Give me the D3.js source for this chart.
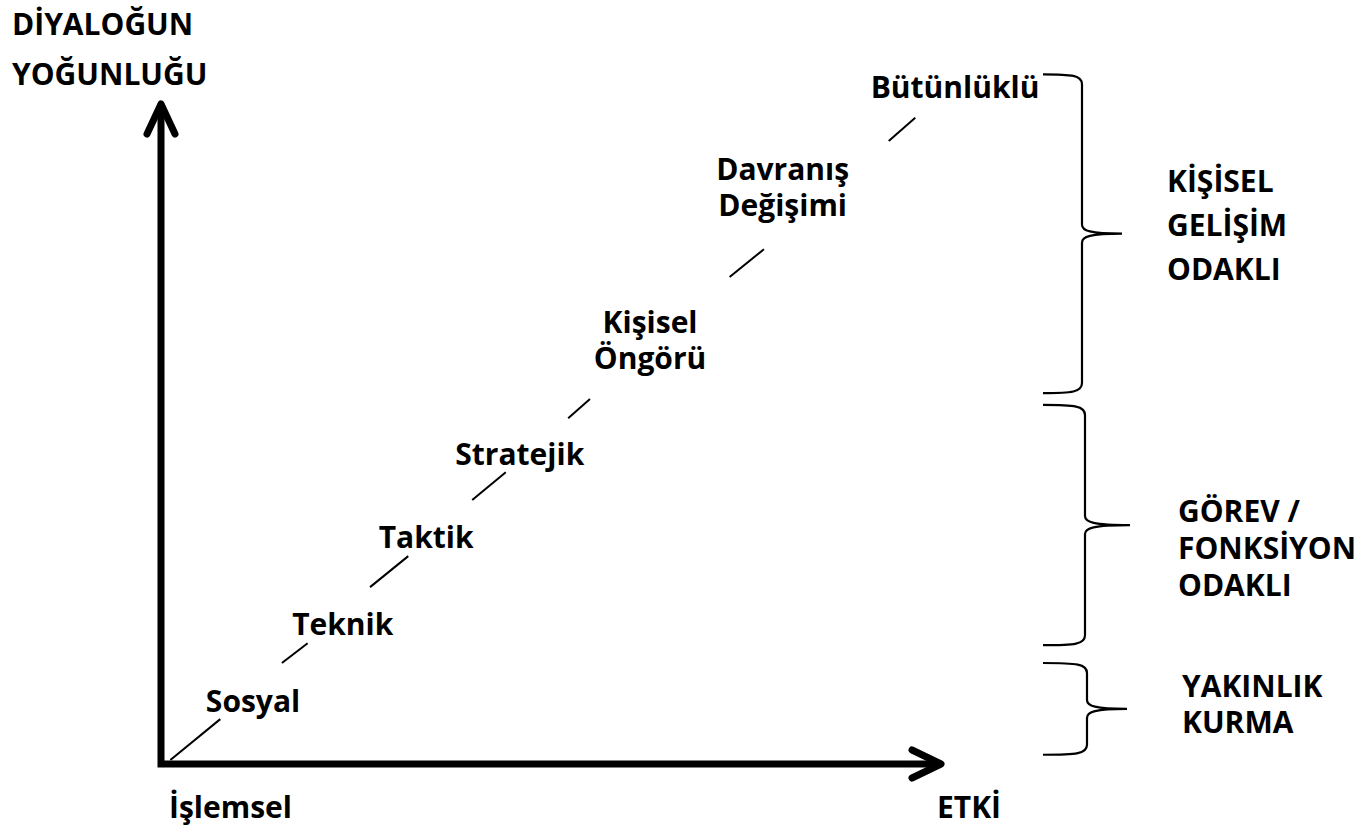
<!DOCTYPE html>
<html>
<head>
<meta charset="utf-8">
<script src="https://cdn.jsdelivr.net/npm/d3@7"></script>
<style>
  html, body { margin: 0; padding: 0; background: #fff; }
  svg { display: block; }
  text { font-family: "Open Sans", "Noto Sans", sans-serif; font-weight: 700; fill: #000; }
</style>
</head>
<body>
<svg id="chart" width="1367" height="830"></svg>
<script>
// ---------- data (diagram units: 0..100 on each axis) ----------
const stageNames   = [["Sosyal"], ["Teknik"], ["Taktik"], ["Stratejik"], ["Kişisel", "Öngörü"], ["Davranış", "Değişimi"], ["Bütünlüklü"]];
const stageX       = [11.8, 23.3, 34.0, 46.0, 62.7, 79.7, 101.8];   // label centre along ETKİ
const stageY       = [7.9, 19.5, 32.7, 45.3, 65.3, 88.5, 100.9];     // first baseline along DİYALOĞUN YOĞUNLUĞU

// diagonal path pieces visible between the stage labels [x1, y1, x2, y2]
const segX1 = [1.2, 15.5, 26.8, 39.9, 52.2, 72.9, 93.3];
const segY1 = [0.6, 15.3, 26.8, 40.0, 52.4, 73.8, 94.4];
const segX2 = [7.6, 18.8, 31.7, 44.2, 55.0, 77.3, 96.7];
const segY2 = [6.8, 18.3, 31.5, 44.2, 55.3, 78.0, 97.9];

// groups shown with braces on the right
const groupNames = [["KİŞİSEL", "GELİŞİM", "ODAKLI"], ["GÖREV /", "FONKSİYON", "ODAKLI"], ["YAKINLIK", "KURMA"]];
const groupTop   = [104.5, 54.4, 15.3];
const groupBot   = [56.2, 18.0, 1.4];
const groupTextY = [86.7, 36.7, 10.2];

const yAxisTitle = ["DİYALOĞUN", "YOĞUNLUĞU"];
const xAxisStart = "İşlemsel";
const xAxisEnd   = "ETKİ";

// ---------- layout ----------
const svg = d3.select("#chart");
const x = d3.scaleLinear().domain([0, 100]).range([161, 941]);
const y = d3.scaleLinear().domain([0, 100]).range([764, 104]);
const FS = 30;

// axes
svg.append("path")
  .attr("d", `M${x(0)},${y(100) + 6} L${x(0)},${y(0)} L${x(100) - 6},${y(0)}`)
  .attr("fill", "none").attr("stroke", "#000").attr("stroke-width", 7)
  .attr("stroke-linejoin", "miter");
// arrowheads
svg.append("path")
  .attr("d", `M${x(0) - 14},${y(100) + 30} L${x(0)},${y(100)} L${x(0) + 14},${y(100) + 30}`)
  .attr("fill", "none").attr("stroke", "#000").attr("stroke-width", 7)
  .attr("stroke-linecap", "round").attr("stroke-linejoin", "round");
svg.append("path")
  .attr("d", `M${x(100) - 29},${y(0) - 14} L${x(100)},${y(0)} L${x(100) - 29},${y(0) + 14}`)
  .attr("fill", "none").attr("stroke", "#000").attr("stroke-width", 7)
  .attr("stroke-linecap", "round").attr("stroke-linejoin", "round");

// diagonal pieces
svg.append("g").selectAll("line").data(segX1).join("line")
  .attr("x1", (d, i) => x(segX1[i])).attr("y1", (d, i) => y(segY1[i]))
  .attr("x2", (d, i) => x(segX2[i])).attr("y2", (d, i) => y(segY2[i]))
  .attr("stroke", "#000").attr("stroke-width", 2);

// stage labels
const stageG = svg.append("g").selectAll("text").data(stageNames).join("text")
  .attr("text-anchor", "middle")
  .attr("font-size", FS)
  .attr("x", (d, i) => x(stageX[i]))
  .attr("y", (d, i) => y(stageY[i]));
stageG.selectAll("tspan").data(d => d).join("tspan")
  .attr("x", function () { return this.parentNode.getAttribute("x"); })
  .attr("dy", (d, j) => j === 0 ? 0 : 36)
  .text(d => d);

// axis titles
const yt = svg.append("text").attr("font-size", FS).attr("x", 12).attr("y", 35);
yt.selectAll("tspan").data(yAxisTitle).join("tspan")
  .attr("x", 12).attr("dy", (d, j) => j === 0 ? 0 : 50).text(d => d);
svg.append("text").attr("font-size", FS).attr("x", 169).attr("y", 818).text(xAxisStart);
svg.append("text").attr("font-size", FS).attr("x", 937).attr("y", 818).text(xAxisEnd);

// braces
function brace(x0, xv, xt, yT, yB) {
  const ym = (yT + yB) / 2;
  return `M${x0},${yT} C${xv - 10},${yT} ${xv},${yT + 1} ${xv},${yT + 10}` +
         ` L${xv},${ym - 9} C${xv},${ym - 3} ${xv + 8},${ym} ${xt},${ym}` +
         ` C${xv + 8},${ym} ${xv},${ym + 3} ${xv},${ym + 9}` +
         ` L${xv},${yB - 10} C${xv},${yB - 1} ${xv - 10},${yB} ${x0},${yB}`;
}
const braceV   = [1082, 1085, 1087];
const braceTip = [1122, 1130, 1127];
const textLeft = [1167, 1178, 1182];
const lineGap  = [44, 37, 36];

svg.append("g").selectAll("path").data(groupNames).join("path")
  .attr("d", (d, i) => brace(1043, braceV[i], braceTip[i], y(groupTop[i]), y(groupBot[i])))
  .attr("fill", "none").attr("stroke", "#000").attr("stroke-width", 2.2);

const gt = svg.append("g").selectAll("text").data(groupNames).join("text")
  .attr("font-size", FS)
  .attr("x", (d, i) => textLeft[i])
  .attr("y", (d, i) => y(groupTextY[i]));
gt.each(function (d, i) {
  d3.select(this).selectAll("tspan").data(d).join("tspan")
    .attr("x", textLeft[i]).attr("dy", (s, j) => j === 0 ? 0 : lineGap[i]).text(s => s);
});
</script>
</body>
</html>
